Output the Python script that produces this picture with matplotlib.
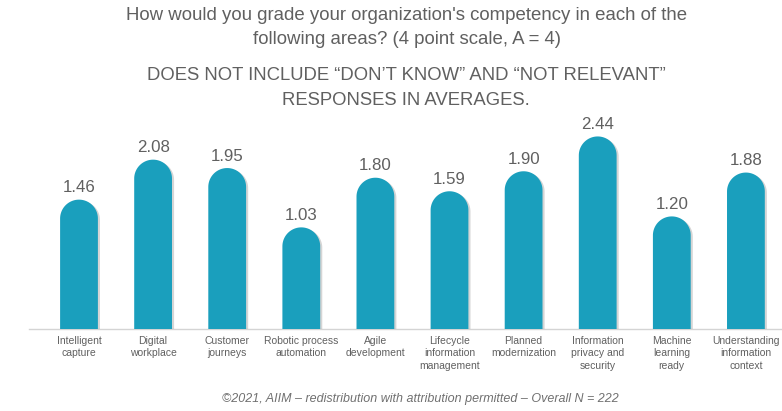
import numpy as np
import matplotlib.pyplot as plt
from matplotlib.patches import Polygon
import matplotlib.patheffects as pe

# Chart data
categories = [
    "Intelligent\ncapture",
    "Digital\nworkplace",
    "Customer\njourneys",
    "Robotic process\nautomation",
    "Agile\ndevelopment",
    "Lifecycle\ninformation\nmanagement",
    "Planned\nmodernization",
    "Information\nprivacy and\nsecurity",
    "Machine\nlearning\nready",
    "Understanding\ninformation\ncontext",
]
scores = [1.46, 2.08, 1.95, 1.03, 1.80, 1.59, 1.90, 2.44, 1.20, 1.88]

title_lines = ["How would you grade your organization's competency in each of the",
               "following areas? (4 point scale, A = 4)"]
note_lines = ["DOES NOT INCLUDE \u201cDON\u2019T KNOW\u201d AND \u201cNOT RELEVANT\u201d",
              "RESPONSES IN AVERAGES."]
footer_text = "\u00a92021, AIIM \u2013 redistribution with attribution permitted \u2013 Overall N = 222"

# Style
BAR_COLOR = "#1a9fbd"
TEXT_GREY = "#606060"
BAR_WIDTH = 0.51
BASE = -0.546          # bars rise from the baseline, below zero on the value scale

plt.rcParams['font.family'] = ['Liberation Sans', 'DejaVu Sans']

W, H = 782, 411
fig = plt.figure(figsize=(W / 100, H / 100), dpi=100)
ax = fig.add_axes([0, 82 / H, 1, 209 / H])
ax.set_xlim(-1.066, 9.487)
ax.set_ylim(BASE, 2.695)

fig.canvas.draw()
# pixel scale of each axis, so the rounded tops are true semicircles
px_x = ax.transData.transform((1, 0))[0] - ax.transData.transform((0, 0))[0]
px_y = ax.transData.transform((0, 1))[1] - ax.transData.transform((0, 0))[1]

half = BAR_WIDTH / 2
r_y = half * px_x / px_y
theta = np.linspace(0, np.pi, 60)

x = np.arange(len(scores))
for xi, val in zip(x, scores):
    top = val - r_y
    arc_x = xi + half * np.cos(theta)
    arc_y = top + r_y * np.sin(theta)
    pts = [(xi + half, BASE)] + list(zip(arc_x, arc_y)) + [(xi - half, BASE)]
    poly = Polygon(pts, closed=True, facecolor=BAR_COLOR, edgecolor='none', zorder=3)
    poly.set_path_effects([pe.SimplePatchShadow(offset=(1.5, -1), shadow_rgbFace='#888888', alpha=0.35),
                           pe.Normal()])
    ax.add_patch(poly)
    ax.text(xi, val + 0.07, f"{val:.2f}", ha='center', va='bottom',
            fontsize=12.2, color=TEXT_GREY, zorder=4)

ax.set_xticks(x)
ax.set_xticklabels(categories, fontsize=7.5, color=TEXT_GREY, linespacing=1.3)
ax.tick_params(axis='x', length=0, pad=5)
ax.set_yticks([])
for side in ['top', 'left', 'right']:
    ax.spines[side].set_visible(False)
ax.spines['bottom'].set_color('#d4d4d4')
ax.spines['bottom'].set_linewidth(1.0)
ax.spines['bottom'].set_bounds(-0.67, 9.47)
ax.patch.set_visible(False)

for line, ypx in zip(title_lines, [16, 39]):
    fig.text(407 / W, 1 - ypx / H, line, ha='center', va='center',
             fontsize=13.4, color=TEXT_GREY)
for line, ypx in zip(note_lines, [76, 100]):
    fig.text(406 / W, 1 - ypx / H, line, ha='center', va='center',
             fontsize=13.3, color=TEXT_GREY)
fig.text(420 / W, 1 - 399 / H, footer_text, ha='center', va='center',
         fontsize=9, color='#707070', style='italic')

fig.savefig("out.png", dpi=100)
